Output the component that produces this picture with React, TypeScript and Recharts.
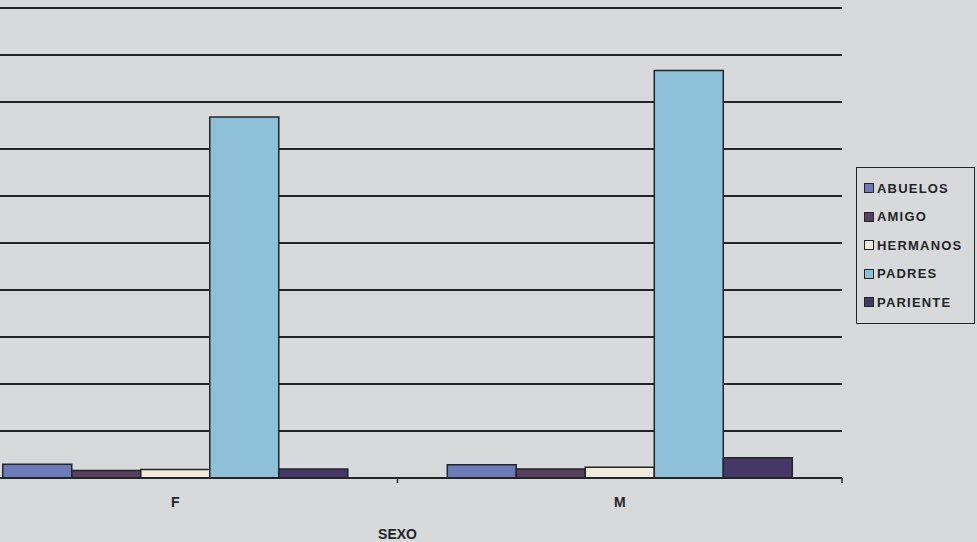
import { BarChart, Bar, XAxis, YAxis, CartesianGrid, Legend } from 'recharts'

const categories = ['F', 'M']
const abuelos = [2.9, 2.8]
const amigo = [1.6, 1.9]
const hermanos = [1.8, 2.3]
const padres = [76.8, 86.7]
const pariente = [1.9, 4.3]
const yTicks = [0, 10, 20, 30, 40, 50, 60, 70, 80, 90, 100]

const series = [
  { key: 'ABUELOS', values: abuelos, color: '#6b7bb8' },
  { key: 'AMIGO', values: amigo, color: '#573f5e' },
  { key: 'HERMANOS', values: hermanos, color: '#efeadb' },
  { key: 'PADRES', values: padres, color: '#8fc0d9' },
  { key: 'PARIENTE', values: pariente, color: '#463866' },
]

const data = categories.map((c, i) => {
  const row: Record<string, string | number> = { name: c }
  series.forEach(s => { row[s.key] = s.values[i] })
  return row
})

const INK = '#232428'
const BG = '#d8d9db'

function CategoryTick(props: any) {
  const { x, y, payload } = props
  const off = payload.offset || 0
  return (
    <g>
      <line x1={x + off} y1={y - 8} x2={x + off} y2={y - 3} stroke={INK} strokeWidth={1.5} />
      <text x={x} y={y + 21} textAnchor="middle" fontFamily="'Liberation Sans', Arial" fontWeight="bold" fontSize={14} fill={INK}>
        {payload.value}
      </text>
    </g>
  )
}

function LegendBox() {
  return (
    <div style={{ border: `1.5px solid ${INK}`, background: BG, padding: '6px 4px 6px 7px', width: 106 }}>
      {series.map(s => (
        <div key={s.key} style={{ display: 'flex', alignItems: 'center', height: 28.5 }}>
          <span style={{ width: 8, height: 8, background: s.color, border: `1px solid ${INK}`, marginRight: 3 }} />
          <span style={{ fontFamily: "'Liberation Sans', Arial", fontWeight: 'bold', fontSize: 13, letterSpacing: 1.2, color: INK, whiteSpace: 'nowrap' }}>
            {s.key}
          </span>
        </div>
      ))}
    </div>
  )
}

export default function App() {
  return (
    <div style={{ position: 'fixed', left: 0, top: 0, width: 977, height: 542, overflow: 'hidden', background: BG }}>
      <div style={{ position: 'absolute', left: -47, top: 0 }}>
        <BarChart
          width={1030}
          height={542}
          data={data}
          margin={{ top: 8, right: 141, left: 0, bottom: 0 }}
          barCategoryGap="11.2%"
          barGap={0}
        >
          <CartesianGrid vertical={false} stroke={INK} strokeWidth={2} />
          <XAxis
            dataKey="name"
            height={64}
            axisLine={{ stroke: INK, strokeWidth: 2 }}
            tickLine={false}
            tick={<CategoryTick />}
            label={{ value: 'SEXO', position: 'insideBottom', offset: 3, fill: INK, fontFamily: "'Liberation Sans', Arial", fontWeight: 'bold', fontSize: 14 }}
          />
          <YAxis hide domain={[0, 100]} ticks={yTicks} />
          <Legend
            layout="vertical"
            align="center"
            verticalAlign="middle"
            wrapperStyle={{ left: 903, top: 167, width: 120 }}
            content={() => <LegendBox />}
          />
          {series.map(s => (
            <Bar key={s.key} dataKey={s.key} fill={s.color} stroke={INK} strokeWidth={1.5} isAnimationActive={false} />
          ))}
        </BarChart>
      </div>
    </div>
  )
}
